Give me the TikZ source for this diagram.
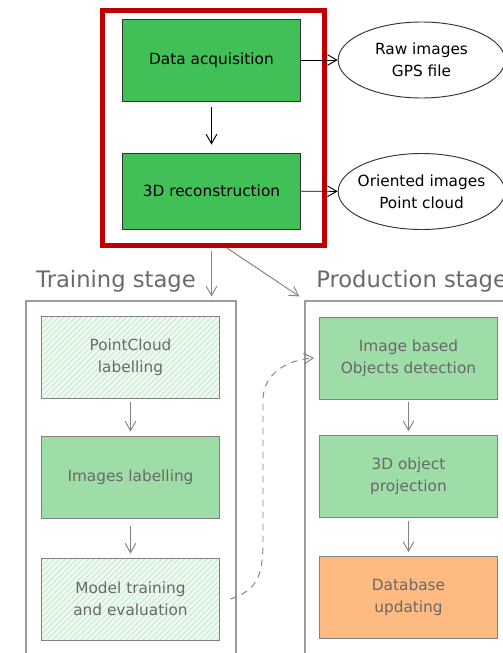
\documentclass[tikz,border=0pt]{standalone}
\usepackage{fontspec}
\setmainfont{DejaVu Sans}
\usetikzlibrary{arrows.meta,patterns.meta,shapes.geometric}

\definecolor{acqgreen}{RGB}{64,192,87}
\definecolor{stepgreen}{RGB}{158,220,168}
\definecolor{hatchgreen}{RGB}{198,236,206}
\definecolor{hatchbg}{RGB}{240,250,242}
\definecolor{dbase}{RGB}{254,186,128}
\definecolor{framered}{RGB}{192,0,0}
\definecolor{edgegray}{RGB}{130,130,130}
\definecolor{textgray}{RGB}{105,105,105}

\tikzset{
  arr/.style={-{Straight Barb[length=7pt,width=8pt]}, line width=0.7pt},
  boxtext/.style={font=\fontsize{11.5}{16.5}\selectfont, align=center, inner sep=0pt},
  topbox/.style={boxtext, draw=black!80, line width=0.7pt, fill=acqgreen, minimum width=134pt, minimum height=61.5pt},
  output/.style={boxtext, ellipse, inner xsep=-5pt, draw=black!80, line width=0.7pt, minimum width=125pt, minimum height=57pt},
  stage/.style={draw=edgegray!80, line width=0.8pt, minimum width=157.5pt, minimum height=276pt},
  stagetitle/.style={font=\fontsize{17}{20}\selectfont, text=textgray, inner sep=0pt},
  stepbox/.style={boxtext, text=textgray, draw=edgegray, line width=0.7pt, fill=stepgreen, minimum width=133pt, minimum height=61.5pt},
  hatchbox/.style={stepbox, preaction={fill=hatchbg}, pattern={Lines[angle=45,distance=3pt,line width=0.8pt]}, pattern color=hatchgreen},
  dbbox/.style={stepbox, fill=dbase}
}

\begin{document}
\begin{tikzpicture}[x=0.75pt,y=-0.75pt]
\useasboundingbox (0,0) rectangle (503,653);
\node[draw=framered, line width=3.75pt, inner sep=0pt, minimum width=166.5pt, minimum height=176.25pt] (frame) at (213.5,128) {};
\node[topbox] (acq) at (211.5,60) {Data acquisition};
\node[topbox, minimum height=57pt] (recon) at (211.5,191) {3D reconstruction};
\node[output] (raw) at (421.5,60) {Raw images\\GPS file};
\node[output] (oriented) at (421.5,191.5) {Oriented images\\Point cloud};
\draw[arr, shorten <=4.5pt, shorten >=6pt] (acq) -- (recon);
\draw[arr] (acq) -- (raw);
\draw[arr] (recon) -- (oriented);

\node[stage] (train) at (131,485) {};
\node[stage] (prod) at (410,485) {};
\node[stagetitle] (traintitle) at (116,281) {Training stage};
\node[stagetitle, anchor=west] (prodtitle) at (316,281) {Production stage};
\draw[arr, edgegray, shorten <=2pt, shorten >=3pt] (recon.south |- frame.south) -- (recon.south |- train.north);
\draw[arr, edgegray] ([xshift=10pt]frame.south) -- ([shift={(-5,-4)}]prod.north west);

\node[hatchbox] (pcl) at (130.5,357.5) {PointCloud\\labelling};
\node[stepbox] (iml) at (130.5,477) {Images labelling};
\node[hatchbox] (mte) at (130.5,599) {Model training\\and evaluation};
\node[stepbox] (ibd) at (408.5,358) {Image based\\Objects detection};
\node[stepbox] (odp) at (408.5,476.5) {3D object\\projection};
\node[dbbox] (dbu) at (408.5,597.5) {Database\\updating};

\draw[arr, edgegray, shorten <=2pt, shorten >=3pt] (pcl) -- (iml);
\draw[arr, edgegray, shorten <=6pt, shorten >=3pt] (iml) -- (mte);
\draw[arr, edgegray, shorten <=2pt, shorten >=3pt] (ibd) -- (odp);
\draw[arr, edgegray, shorten <=2pt, shorten >=3pt] (odp) -- (dbu);
\draw[arr, edgegray, dash pattern=on 5pt off 4pt] ([xshift=8pt]mte.east) .. controls (258,590) and (263,575) .. (263,540) -- (263,400) .. controls (263,375) and (285,360) .. ([xshift=-4pt]ibd.west);
\end{tikzpicture}
\end{document}
